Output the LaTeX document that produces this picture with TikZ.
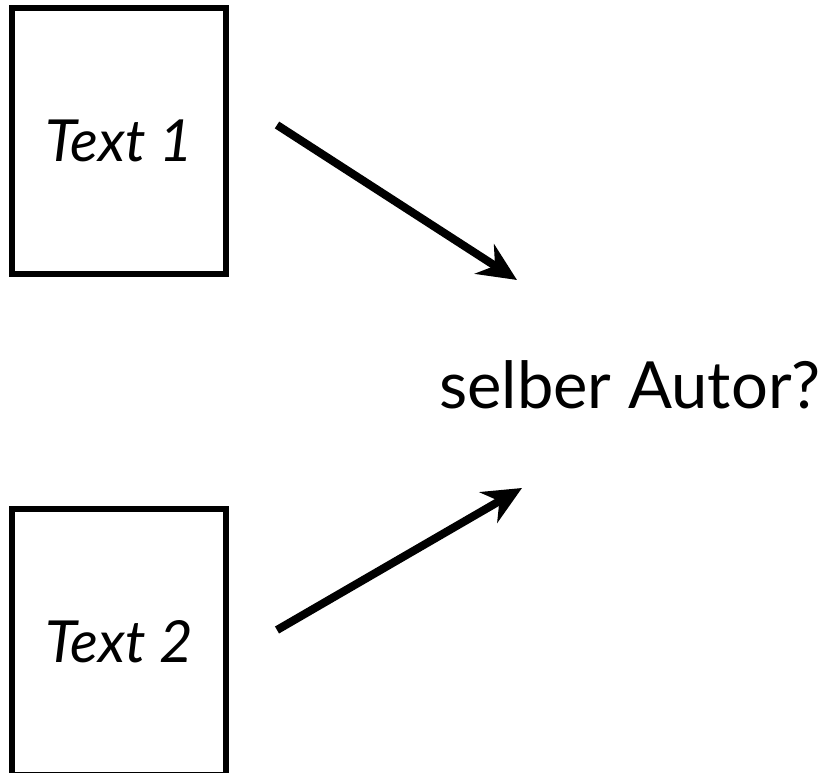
\documentclass[tikz,border=0pt]{standalone}
\usepackage{fontspec}
\setmainfont{Lato}
\usetikzlibrary{arrows.meta}
\tikzset{
  doc/.style={draw=black, line width=1.6pt, minimum width=2.14cm, minimum height=2.66cm, inner sep=0pt, font=\fontsize{16.5}{20}\selectfont\itshape},
  lab/.style={font=\fontsize{18.5}{22}\selectfont, inner sep=0pt},
  pfeil/.style={line width=2.3pt, -{Stealth[length=11pt,width=10pt]}},
}
\begin{document}
\begin{tikzpicture}[x=0.01cm,y=-0.01cm]
  \useasboundingbox (0,0) rectangle (827,773);
  \fill[white] (0,0) rectangle (827,773);
  \begin{scope}
  \clip (0,0) rectangle (827,773);
  \node[doc] (text1) at (119,141) {Text 1};
  \node[doc] (text2) at (119,642) {Text 2};
  \end{scope}
  \node[lab] (autor) at (630,385) {selber Autor?};
  % Pfeile
  \coordinate (s1) at (277,125);
  \coordinate (e1) at (517,280);
  \coordinate (s2) at (277,630);
  \coordinate (e2) at (522,488);
  \draw[pfeil] (s1) -- (e1);
  \draw[pfeil] (s2) -- (e2);
\end{tikzpicture}
\end{document}
